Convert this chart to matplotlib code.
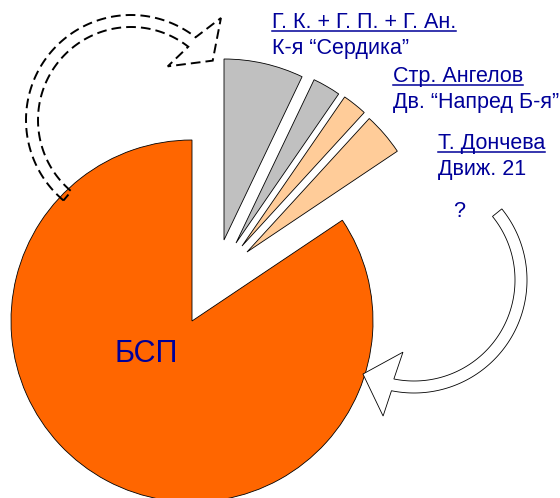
import numpy as np
import matplotlib
matplotlib.use('Agg')
import matplotlib.pyplot as plt
from matplotlib.patches import Polygon

plt.rcParams['font.family'] = ['Liberation Sans', 'DejaVu Sans']

# доли (в %) - малките парчета по часовниковата стрелка от 12 часа, после БСП
shares = [7.1, 2.5, 2.2, 3.8, 84.4]
colors = ['#C0C0C0', '#C0C0C0', '#FFCC99', '#FFCC99', '#FF6600']
big_label = 'БСП'

label_top = ['Г. К. + Г. П. + Г. Ан.', 'Стр. Ангелов', 'Т. Дончева']
label_bottom = ['К-я “Сердика”', 'Дв. “Напред Б-я”', 'Движ. 21']

W, H = 560, 498
blue = '#000099'

fig = plt.figure(figsize=(W / 100, H / 100), dpi=100)
ax = fig.add_axes([0, 0, 1, 1])

# пай в пикселни координати (y нагоре)
cx, cy, R = 192, 177, 181
wedges, _ = ax.pie(shares, colors=colors, startangle=90, counterclock=False,
                   center=(cx, cy), radius=R,
                   wedgeprops=dict(edgecolor='black', linewidth=0.6))
# изместване на малките парчета навън
shift_x = [32, 44, 50, 55, 0]
shift_y = [81, 78, 75, 69, 0]
for w, dx, dy in zip(wedges, shift_x, shift_y):
    w.set_center((cx + dx, cy + dy))

ax.set_xlim(0, W)
ax.set_ylim(0, H)
ax.set_aspect('auto')
ax.axis('off')


def curved_arrow(xc, yc, r, hw, a0, a1, tip_da, r_tip, r_in, r_out, da_in, da_out, **kw):
    s = np.sign(a1 - a0)
    t = np.radians(np.linspace(a0, a1, 150))
    outer = np.c_[xc + (r + hw) * np.cos(t), yc + (r + hw) * np.sin(t)]
    inner = np.c_[xc + (r - hw) * np.cos(t), yc + (r - hw) * np.sin(t)]

    def pt(rad, ang):
        return [xc + rad * np.cos(np.radians(ang)), yc + rad * np.sin(np.radians(ang))]

    head = np.array([pt(r_out, a1 + s * da_out), pt(r_tip, a1 + s * tip_da),
                     pt(r_in, a1 - s * da_in)])
    pts = np.vstack([outer, head, inner[::-1]])
    ax.add_patch(Polygon(pts, closed=True, zorder=5, **kw))


# пунктирната стрелка горе вляво
curved_arrow(131, 378, 99, 6, 230, 52, 16, 101, 65, 136, 3.6, 3.4,
             fill=False, edgecolor='black', linewidth=1.4, linestyle=(0, (5, 2.6)))
# бялата стрелка вдясно
curved_arrow(414, 218, 107, 6, 39, -101.5, 17, 107, 73, 139.5, 2.8, 1.3,
             facecolor='white', edgecolor='black', linewidth=0.6)

# надписи
label_x = [272, 393, 438]
label_y = [28, 82, 149]
line_gap = 26
texts = []
for x, y, t1, t2 in zip(label_x, label_y, label_top, label_bottom):
    t = ax.text(x, H - y, t1, color=blue, fontsize=15.5, ha='left', va='baseline')
    ax.text(x, H - y - line_gap, t2, color=blue, fontsize=15.5, ha='left', va='baseline')
    texts.append((t, H - y))

ax.text(459, H - 211, '?', color=blue, fontsize=15.5, ha='center', va='center')
ax.text(146, H - 354, big_label, color=blue, fontsize=22, ha='center', va='center')

# подчертаване на първите редове
fig.canvas.draw()
renderer = fig.canvas.get_renderer()
inv = ax.transData.inverted()
for t, yb in texts:
    bb = t.get_window_extent(renderer)
    (x0, _), (x1, _) = inv.transform([[bb.x0, bb.y0], [bb.x1, bb.y1]])
    ax.plot([x0, x1], [yb - 3, yb - 3], color=blue, linewidth=1.1)

fig.savefig('out.png', dpi=100)
